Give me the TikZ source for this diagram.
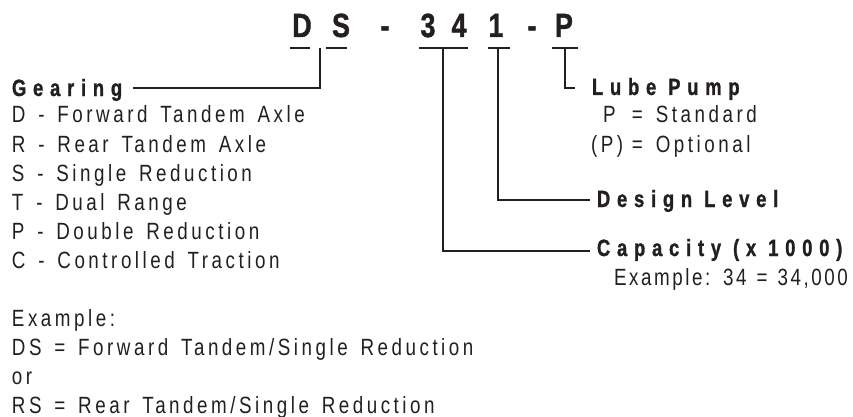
\documentclass[tikz,border=0pt]{standalone}
\usepackage{fontspec}
\setmainfont{Liberation Sans}[FakeStretch=0.8]
\newfontfamily\regf{Liberation Sans}[FakeStretch=0.8, LetterSpace=15]
\newfontfamily\regtightf{Liberation Sans}[FakeStretch=0.8, LetterSpace=11]
\newfontfamily\hdf{Liberation Sans}[FakeStretch=0.78, LetterSpace=29, FakeBold=1.2]
\newfontfamily\codef{Liberation Sans}[FakeStretch=0.8, FakeBold=1.2]
\definecolor{ink}{RGB}{35,31,32}
\newcommand\regfont{\regf\fontsize{23.5}{29}\selectfont\spaceskip=12.8pt\relax}
\newcommand\tightfont{\regtightf\fontsize{23.5}{29}\selectfont\spaceskip=10pt\relax}
\newcommand\headfont{\hdf\bfseries\fontsize{23.5}{29}\selectfont\spaceskip=12pt\relax}
\begin{document}
\begin{tikzpicture}[x=1pt,y=-1pt,
  every node/.style={inner sep=0pt,outer sep=0pt,text=ink},
  codechar/.style={anchor=base,font=\codef\bfseries\fontsize{33.5}{34}\selectfont},
  txt/.style={anchor=base west,font=\regfont},
  txttight/.style={anchor=base west,font=\tightfont},
  hd/.style={anchor=base west,font=\headfont},
  conn/.style={draw=ink,line width=1.7pt},
  uline/.style={draw=ink,line width=2pt}]
\useasboundingbox (0,0) rectangle (853,417);
% code characters
\node[codechar] (cD) at (302,37) {D};
\node[codechar] (cS) at (341,37) {S};
\node[codechar] (cd1) at (385,37) {-};
\node[codechar] (c3) at (428,37) {3};
\node[codechar] (c4) at (459,37) {4};
\node[codechar] (c1) at (496,37) {1};
\node[codechar] (cd2) at (532,37) {-};
\node[codechar] (cP) at (564,37) {P};
% underlines
\coordinate (uDa) at (290,48); \coordinate (uDb) at (310,48);
\coordinate (uSa) at (326,48); \coordinate (uSb) at (347,48);
\coordinate (u3a) at (419,48); \coordinate (u3b) at (468,48);
\coordinate (u1a) at (488,48); \coordinate (u1b) at (510,48);
\coordinate (uPa) at (552,48); \coordinate (uPb) at (578,48);
\draw[uline] (uDa) -- (uDb);
\draw[uline] (uSa) -- (uSb);
\draw[uline] (u3a) -- (u3b);
\draw[uline] (u1a) -- (u1b);
\draw[uline] (uPa) -- (uPb);
% left column
\node[hd] (gear) at (12,96) {Gearing};
\node[txt] (g1) at (12,123) {D - Forward Tandem Axle};
\node[txt] (g2) at (12,152) {R - Rear Tandem Axle};
\node[txt] (g3) at (12,181) {S - Single Reduction};
\node[txt] (g4) at (12,210) {T - Dual Range};
\node[txt] (g5) at (12,239) {P - Double Reduction};
\node[txt] (g6) at (12,268) {C - Controlled Traction};
\node[txt] (e1) at (12,326) {Example:};
\node[txt] (e2) at (12,355) {DS = Forward Tandem/Single Reduction};
\node[txt] (e3) at (12,384) {or};
\node[txt] (e4) at (12,413) {RS = Rear Tandem/Single Reduction};
% right column
\node[hd] (lube) at (592,95) {Lube Pump};
\node[txt] (l1) at (603,122) {\makebox[29pt][l]{P}= Standard};
\node[txt] (l2) at (591,152) {\makebox[41pt][l]{(P)}= Optional};
\node[hd] (design) at (597,207) {Design Level};
\node[hd] (cap) at (597,256) {Capacity (x 1000)};
\node[txttight] (capx) at (614,285) {Example: 34 = 34,000};
% connectors
\coordinate (gtop) at (320,48);
\coordinate (gend) at (133,88);
\draw[conn] (gtop) |- (gend);
\coordinate (ctop) at (443,48);
\coordinate (cend) at (590,251);
\draw[conn] (ctop) |- (cend);
\coordinate (dtop) at (498,48);
\coordinate (dend) at (590,200);
\draw[conn] (dtop) |- (dend);
\coordinate (ltop) at (565,48);
\coordinate (lend) at (575,88);
\draw[conn] (ltop) |- (lend);
\end{tikzpicture}
\end{document}
